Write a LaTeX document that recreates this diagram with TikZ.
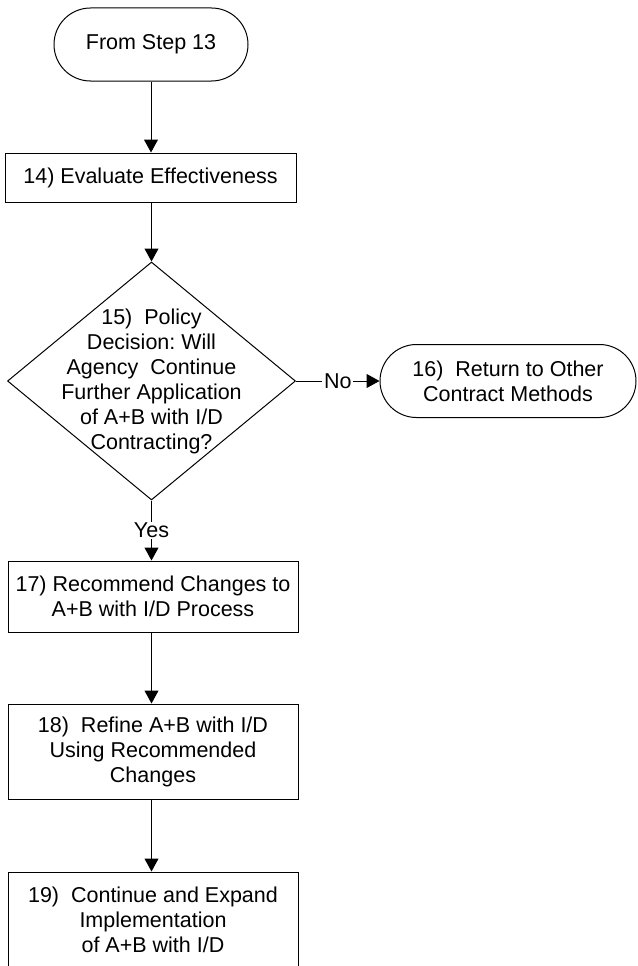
\documentclass[tikz,border=0pt]{standalone}
\usepackage{fontspec}
\setmainfont{Liberation Sans}
\usetikzlibrary{shapes.geometric,shapes.misc,arrows.meta}
\frenchspacing
\begin{document}
\begin{tikzpicture}[x=1pt,y=-1pt,
  every node/.style={font=\fontsize{21.5pt}{25pt}\selectfont, align=center, inner sep=0pt},
  procbox/.style={draw, rectangle, line width=1pt, minimum width=290pt},
  terminal/.style={draw, rounded rectangle, line width=1pt, minimum height=73pt},
  decision/.style={draw, diamond, line width=1pt, minimum width=288pt, minimum height=238pt},
  flow/.style={line width=1pt, -{Triangle[length=13pt,width=14pt]}},
  lbl/.style={fill=white, inner xsep=2pt, inner ysep=1pt}]
\useasboundingbox (0,0) rectangle (637,966);
\clip (0,0) rectangle (637,966);

% start and steps
\node[terminal, minimum width=194pt] (start) at (151,44.5) {From Step 13};
\node[procbox, minimum width=291pt, minimum height=49pt] (b14) at (150.5,177.5) {14) Evaluate Effectiveness};
\node[decision] (dia) at (151.5,381) {};
\node (diatext) at (151.5,381) {15)~ Policy\\Decision: Will\\Agency~ Continue\\Further Application\\of A+B with I/D\\Contracting?};
\node[terminal, minimum width=256pt] (t16) at (508,381) {16)~ Return to Other\\Contract Methods};
\node[procbox, minimum height=71pt] (b17) at (153,596.5) {17) Recommend Changes to\\A+B with I/D Process};
\node[procbox, minimum height=95pt] (b18) at (153,751.5) {18)~ Refine A+B with I/D\\Using Recommended\\Changes};
\node[procbox, minimum height=96pt] (b19) at (153,920) {19)~ Continue and Expand\\Implementation\\of A+B with I/D};

% connectors
\draw[flow] (start.south) -- (start.south |- b14.north);
\draw[flow] (b14.south -| dia.north) -- (dia.north);
\draw[flow] (dia.east) -- node[lbl] {No} (t16.west);
\draw[flow] (dia.south) -- node[lbl] {Yes} (dia.south |- b17.north);
\draw[flow] (b17.south -| dia.south) -- (dia.south |- b18.north);
\draw[flow] (b18.south -| dia.south) -- (dia.south |- b19.north);
\end{tikzpicture}
\end{document}
